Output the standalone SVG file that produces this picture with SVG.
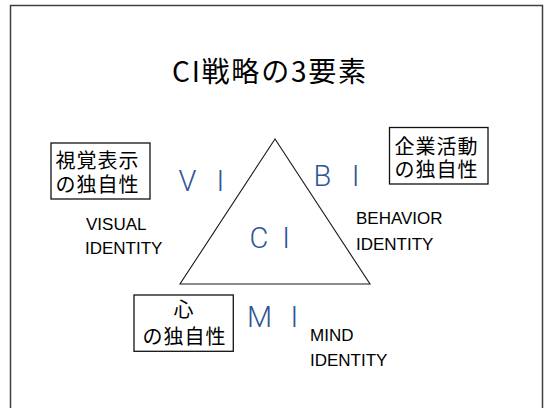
<svg xmlns="http://www.w3.org/2000/svg" width="544" height="408" viewBox="0 0 544 408">
  <style>
    .frame { fill: #ffffff; stroke: #404040; stroke-width: 1.5; }
    .box { fill: #ffffff; stroke: #111111; stroke-width: 1.3; }
    .tri { fill: none; stroke: #1a1a1a; stroke-width: 1.1; stroke-linejoin: miter; }
    .title { font-family: "Noto Sans CJK JP", "Noto Sans", sans-serif; font-size: 28px; fill: #000000; }
    .jp { font-family: "Noto Sans CJK JP", sans-serif; font-size: 20px; letter-spacing: 1px; fill: #000000; }
    .en { font-family: "Liberation Sans", Arial, sans-serif; font-size: 17px; fill: #000000; }
    .ab { font-family: Roboto, "Liberation Sans", sans-serif; font-weight: 300; font-size: 29px; fill: #2F5597; text-anchor: middle; }
  </style>
  <rect class="frame" x="10.5" y="5.5" width="532" height="420"/>
  <text id="title" class="title" x="172" y="82" textLength="194" lengthAdjust="spacing">CI戦略の3要素</text>

  <g id="connectors"></g>

  <g id="ci">
    <polygon class="tri" points="275,139 180,284 370,284"/>
    <text class="ab" x="259" y="247.5">C</text>
    <text class="ab" x="286" y="247.5">I</text>
  </g>

  <g id="vi">
    <text class="ab" x="187.5" y="190.5">V</text>
    <text class="ab" x="220.3" y="190.5">I</text>
    <rect class="box" x="51" y="143" width="99" height="56"/>
    <text class="jp" x="55.5" y="168">視覚表示</text>
    <text class="jp" x="55.5" y="192">の独自性</text>
    <text class="en" x="86" y="230">VISUAL</text>
    <text class="en" x="85" y="254">IDENTITY</text>
  </g>

  <g id="bi">
    <text class="ab" x="322.5" y="186">B</text>
    <text class="ab" x="355.5" y="186">I</text>
    <rect class="box" x="389.5" y="127.5" width="98.5" height="56.5"/>
    <text class="jp" x="394.5" y="153.5">企業活動</text>
    <text class="jp" x="394.5" y="177">の独自性</text>
    <text class="en" x="356" y="223.5">BEHAVIOR</text>
    <text class="en" x="356" y="250">IDENTITY</text>
  </g>

  <g id="mi">
    <text class="ab" x="259.5" y="327">M</text>
    <text class="ab" x="294.3" y="327">I</text>
    <rect class="box" x="134" y="295" width="99.3" height="56.3"/>
    <text class="jp" x="184" y="317" text-anchor="middle">心</text>
    <text class="jp" x="142.5" y="343.5">の独自性</text>
    <text class="en" x="310" y="341">MIND</text>
    <text class="en" x="310" y="366">IDENTITY</text>
  </g>
</svg>
